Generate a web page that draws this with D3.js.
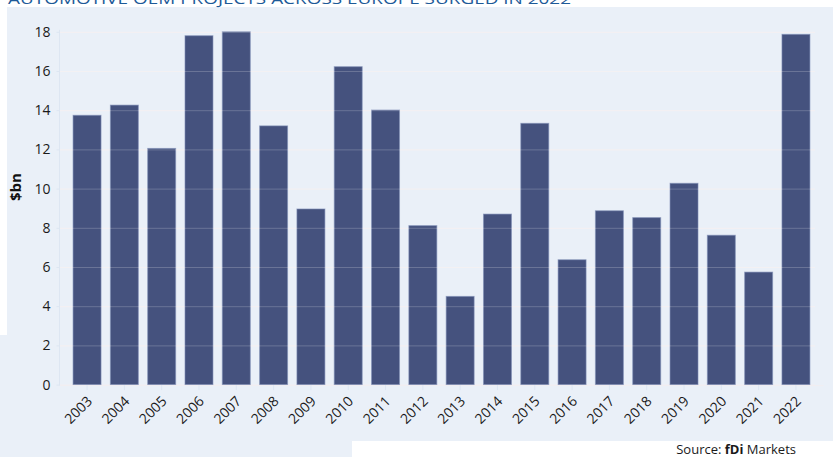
<!DOCTYPE html>
<html><head><meta charset="utf-8">
<script src="https://cdn.jsdelivr.net/npm/d3@7"></script>
<style>
html,body{margin:0;padding:0;background:#fff;}
svg{display:block;font-family:"Open Sans","Noto Sans",sans-serif;}
</style></head>
<body><svg id="c" width="833" height="457"></svg>
<script>
const title = "AUTOMOTIVE OEM PROJECTS ACROSS EUROPE SURGED IN 2022";
const years = ["2003","2004","2005","2006","2007","2008","2009","2010","2011","2012","2013","2014","2015","2016","2017","2018","2019","2020","2021","2022"];
const values = [13.74,14.26,12.05,17.8,18.0,13.2,8.96,16.22,14.01,8.11,4.5,8.7,13.33,6.37,8.87,8.52,10.27,7.62,5.74,17.87];
const yTicks = [0,2,4,6,8,10,12,14,16,18];
const yLabel = "$bn";

const svg = d3.select("#c");
const bg = "#eaf0f8";
svg.append("rect").attr("x",7).attr("y",7).attr("width",826).attr("height",434).attr("fill",bg);
svg.append("rect").attr("x",0).attr("y",335).attr("width",352).attr("height",122).attr("fill",bg);

svg.append("text").attr("x",8).attr("y",4).attr("fill","#1d5a98")
  .attr("font-size",15).attr("textLength",563).attr("lengthAdjust","spacingAndGlyphs").text(title);

const x = d3.scaleBand().domain(years).range([60,823]).paddingInner(0.25).paddingOuter(0.35);
const y = d3.scaleLinear().domain([0,18]).range([384.6,31.8]);
const gx0 = 60, gx1 = 815;

// grid under bars
svg.append("g").selectAll("line").data(yTicks).join("line")
  .attr("x1",gx0).attr("x2",gx1).attr("y1",d=>y(d)+0.5).attr("y2",d=>y(d)+0.5)
  .attr("stroke","#f1eef1").attr("stroke-width",1.2);

// y axis line
svg.append("line").attr("x1",59.5).attr("x2",59.5).attr("y1",y(18)-2).attr("y2",y(0)+1)
  .attr("stroke","#dde6f2").attr("stroke-width",1);

// bars
svg.append("g").selectAll("rect").data(values).join("rect")
  .attr("x",(d,i)=>x(years[i])).attr("width",x.bandwidth())
  .attr("y",d=>y(d)).attr("height",d=>y(0)-y(d))
  .attr("fill","#45527e").attr("stroke","#7f8db5").attr("stroke-width",1).attr("stroke-opacity",0.6);

// grid over bars
svg.append("g").selectAll("line").data(yTicks.filter(d=>d>0)).join("line")
  .attr("x1",gx0).attr("x2",gx1).attr("y1",d=>y(d)+0.5).attr("y2",d=>y(d)+0.5)
  .attr("stroke","#ffffff").attr("stroke-opacity",0.2).attr("stroke-width",1);

// y axis
const ya = d3.axisLeft(y).tickValues(yTicks).tickSize(3).tickPadding(6);
const yg = svg.append("g").attr("transform","translate(59.5,0)").call(ya);
yg.select(".domain").remove();
yg.selectAll(".tick line").attr("stroke","#dde6f2");
yg.selectAll(".tick text").attr("font-size",14).attr("fill","#1a1a1a").attr("font-family","Open Sans, sans-serif");

// x axis
const xa = d3.axisBottom(x).tickSize(5).tickSizeOuter(0);
const xg = svg.append("g").attr("transform",`translate(0,${y(0)+0.5})`).call(xa);
xg.select(".domain").attr("stroke","#f1eef1");
xg.selectAll(".tick line").attr("stroke","#dde6f2");
xg.selectAll(".tick text").attr("font-size",14).attr("fill","#1a1a1a").attr("font-family","Open Sans, sans-serif")
  .attr("text-anchor","end").attr("dy",null).attr("y",null)
  .attr("transform","translate(6,17) rotate(-45)");

// y label
svg.append("text").attr("transform","translate(21,187) rotate(-90)").attr("text-anchor","middle")
  .attr("font-size",15).attr("font-weight","bold").attr("fill","#111").text(yLabel);

// source
const s = svg.append("text").attr("x",796).attr("y",454).attr("text-anchor","end")
  .attr("font-size",13).attr("fill","#1a1a1a");
s.append("tspan").text("Source: ");
s.append("tspan").attr("font-weight","bold").text("fDi");
s.append("tspan").text(" Markets");
</script></body></html>
